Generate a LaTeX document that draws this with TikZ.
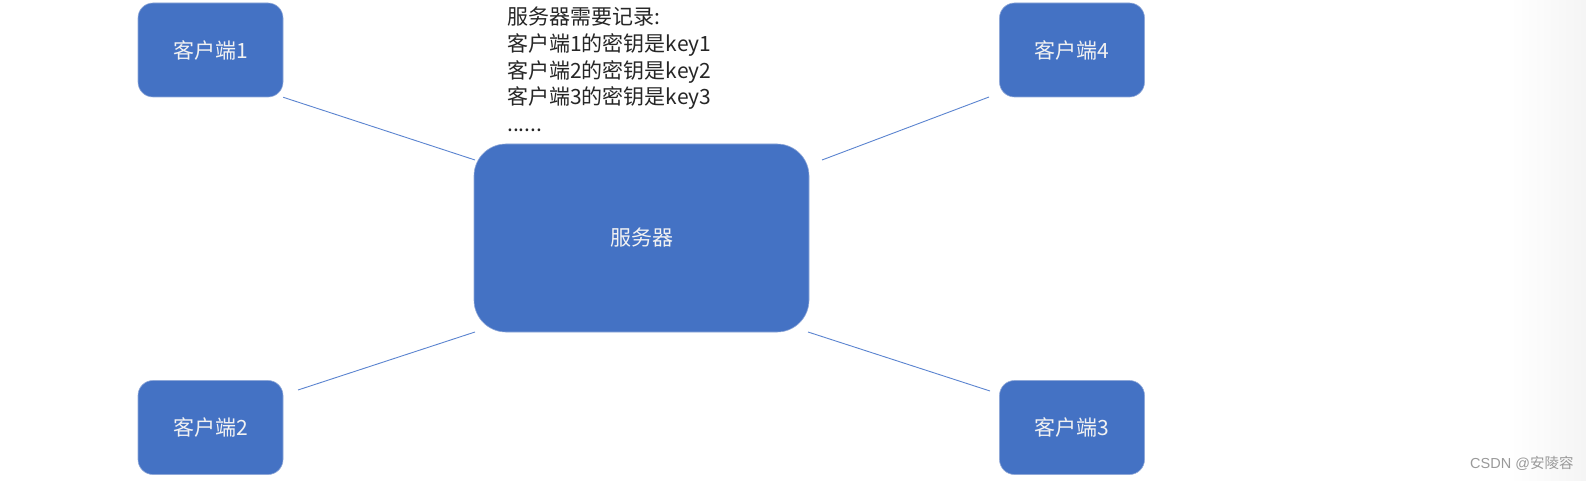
\documentclass[tikz,border=0pt]{standalone}
\usepackage{fontspec}
\setmainfont{Noto Sans CJK SC}
\newfontfamily\wmfont{Liberation Sans}
\usetikzlibrary{calc}
\definecolor{boxblue}{HTML}{4472C4}
\definecolor{boxedge}{HTML}{8FA8D8}
\definecolor{linkblue}{HTML}{5B84D0}
\definecolor{boxtext}{HTML}{F2F2F2}
\definecolor{wmgray}{HTML}{9A9A9A}
\tikzset{
  client/.style={rectangle, rounded corners=15pt, fill=boxblue, draw=boxedge, line width=0.6pt,
    minimum width=145pt, minimum height=94pt, inner sep=0pt, text=boxtext,
    font=\fontsize{21pt}{25pt}\selectfont},
  server/.style={client, rounded corners=32pt, minimum width=335pt, minimum height=188pt},
  link/.style={draw=linkblue, line width=0.9pt}
}
\begin{document}
\begin{tikzpicture}[x=1pt,y=-1pt]
\useasboundingbox (0,0) rectangle (1586,481);
\fill[white] (0,0) rectangle (1586,481);
\shade[left color=white, right color=black!4] (1510,0) rectangle (1586,481);
\node[client] (c1) at (210.5,50) {客户端1};
\node[client] (c2) at (210.5,427.5) {客户端2};
\node[client] (c3) at (1072,427.5) {客户端3};
\node[client] (c4) at (1072,50) {客户端4};
\node[server] (srv) at (641.5,238) {服务器};
\node[anchor=north west, align=left, inner sep=0pt, text=black!85,
  font=\fontsize{21pt}{26.6pt}\selectfont] (note) at (507,7)
  {服务器需要记录:\\客户端1的密钥是key1\\客户端2的密钥是key2\\客户端3的密钥是key3\\......};
\coordinate (s1) at (475,160);
\coordinate (s2) at (475,332);
\coordinate (s3) at (808,332);
\coordinate (s4) at (822,160);
\coordinate (e2) at (298,390);
\coordinate (e3) at (990,391);
\coordinate (e4) at (989,97);
\draw[link] (c1.south east) -- (s1);
\draw[link] (e2) -- (s2);
\draw[link] (s3) -- (e3);
\draw[link] (s4) -- (e4);
\node[anchor=west, inner sep=0pt, text=wmgray, font=\fontsize{14.5pt}{16pt}\selectfont] (wm) at (1470,463) {{\wmfont CSDN @}安陵容};
\end{tikzpicture}
\end{document}
